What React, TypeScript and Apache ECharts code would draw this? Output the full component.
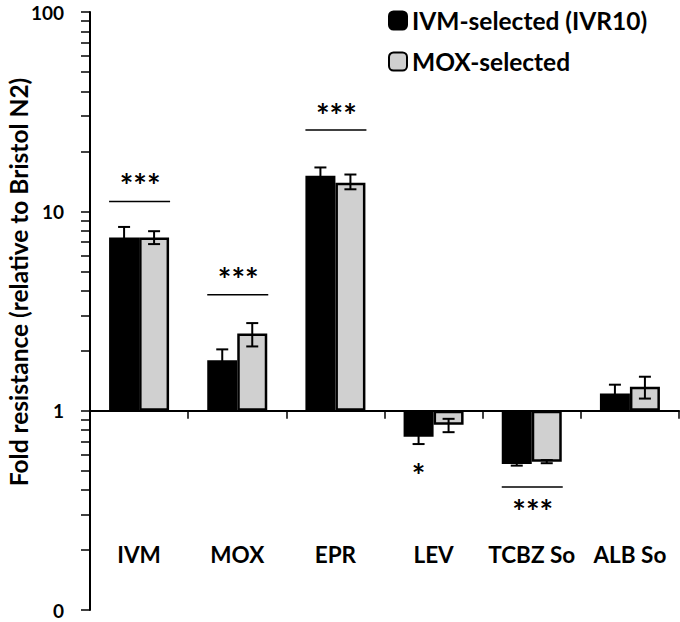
import React, { useEffect, useRef } from "react";
import * as echarts from "echarts";

const categories = ["IVM", "MOX", "EPR", "LEV", "TCBZ So", "ALB So"];
const seriesNames = ["IVM-selected (IVR10)", "MOX-selected"];

const ivmSelected = [7.4, 1.79, 15.1, 0.74, 0.54, 1.22];
const ivmErrLow = [6.45, 1.55, 13.6, 0.68, 0.53, 1.09];
const ivmErrHigh = [8.35, 2.03, 16.6, 0.8, 0.55, 1.35];

const moxSelected = [7.4, 2.44, 13.9, 0.85, 0.555, 1.32];
const moxErrLow = [6.85, 2.1, 12.9, 0.78, 0.545, 1.15];
const moxErrHigh = [7.95, 2.75, 15.3, 0.91, 0.565, 1.48];

const sigCategories = ["IVM", "MOX", "EPR", "TCBZ So"];
const sigLineValues = [11.2, 3.82, 25.6, 0.414];
const sigMarkValues = [14.3, 4.8, 31.8, 0.33];
const sigMarks = ["***", "***", "***", "***"];

const singleSigCategories = ["LEV"];
const singleSigValues = [0.5];
const singleSigMarks = ["*"];

const yTickValues = [
  0.1, 0.2, 0.3, 0.4, 0.5, 0.6, 0.7, 0.8, 0.9,
  1, 2, 3, 4, 5, 6, 7, 8, 9,
  10, 20, 30, 40, 50, 60, 70, 80, 90, 100,
];
const yLabelValues = [0.1, 1, 10, 100];

const FONT = "Lato, 'Open Sans', sans-serif";
const BAR_W = 30;
const STAR_SIZE = 32;

function errorSeries(low: number[], high: number[], side: number) {
  return {
    type: "custom",
    silent: true,
    z: 5,
    data: low.map((l, i) => [i, l, high[i]]),
    renderItem: (params: any, api: any) => {
      const cat = api.value(0);
      const pLow = api.coord([cat, api.value(1)]);
      const pHigh = api.coord([cat, api.value(2)]);
      const x = pLow[0] + side * (BAR_W / 2);
      const cap = 6;
      const style = { stroke: "#000", lineWidth: 2 };
      return {
        type: "group",
        children: [
          { type: "line", shape: { x1: x, y1: pLow[1], x2: x, y2: pHigh[1] }, style },
          { type: "line", shape: { x1: x - cap, y1: pLow[1], x2: x + cap, y2: pLow[1] }, style },
          { type: "line", shape: { x1: x - cap, y1: pHigh[1], x2: x + cap, y2: pHigh[1] }, style },
        ],
      };
    },
  };
}

const starStyle = (text: string) => ({
  text,
  fontFamily: FONT,
  fontWeight: "bold",
  fontSize: STAR_SIZE,
  fill: "#000",
  align: "center",
  verticalAlign: "middle",
});

export default function App() {
  const ref = useRef<HTMLDivElement>(null);
  useEffect(() => {
    if (!ref.current) return;
    const chart = echarts.init(ref.current, null, { renderer: "svg" });
    const option: any = {
      animation: false,
      backgroundColor: "#fff",
      grid: { left: 90, right: 1, top: 12, bottom: 12 },
      legend: {
        data: seriesNames,
        orient: "vertical",
        left: 388,
        top: 8,
        padding: 0,
        itemWidth: 18,
        itemHeight: 18,
        itemGap: 16,
        textStyle: {
          fontFamily: FONT,
          fontWeight: "bold",
          fontSize: 24.5,
          lineHeight: 24,
          color: "#000",
        },
      },
      xAxis: {
        type: "category",
        data: categories,
        position: "bottom",
        offset: -199.3,
        axisLine: { show: true, onZero: false, lineStyle: { color: "#000", width: 2 } },
        axisTick: { show: true, length: 8, lineStyle: { color: "#000", width: 1.5 } },
        axisLabel: {
          interval: 0,
          margin: 132,
          fontFamily: FONT,
          fontWeight: "bold",
          fontSize: 22.5,
          color: "#000",
        },
        splitLine: { show: false },
      },
      yAxis: {
        type: "log",
        logBase: 10,
        min: 0.1,
        max: 100,
        axisLine: { show: true, lineStyle: { color: "#000", width: 2 } },
        axisTick: {
          show: true,
          length: 9,
          customValues: yTickValues,
          lineStyle: { color: "#000", width: 1.5 },
        },
        axisLabel: {
          customValues: yLabelValues,
          margin: 26,
          fontFamily: FONT,
          fontWeight: "bold",
          fontSize: 19,
          lineHeight: 18,
          color: "#000",
          formatter: (v: number) => (v < 1 ? "0" : String(Math.round(v))),
        },
        splitLine: { show: false },
        minorTick: { show: false },
      },
      graphic: [
        {
          type: "text",
          x: 18,
          y: 282,
          rotation: Math.PI / 2,
          style: {
            text: "Fold resistance (relative to Bristol N2)",
            fontFamily: FONT,
            fontWeight: "bold",
            fontSize: 24.5,
            fill: "#000",
            align: "center",
            verticalAlign: "middle",
          },
        },
      ],
      series: [
        {
          name: seriesNames[0],
          type: "bar",
          data: ivmSelected,
          barWidth: BAR_W,
          barGap: "0%",
          itemStyle: { color: "#000", borderColor: "#000", borderWidth: 2.5 },
          z: 2,
        },
        {
          name: seriesNames[1],
          type: "bar",
          data: moxSelected,
          barWidth: BAR_W,
          barGap: "0%",
          itemStyle: { color: "#d0d0d0", borderColor: "#000", borderWidth: 2.5 },
          z: 2,
        },
        errorSeries(ivmErrLow, ivmErrHigh, -1),
        errorSeries(moxErrLow, moxErrHigh, 1),
        {
          type: "custom",
          silent: true,
          z: 6,
          data: sigCategories.map((c, i) => [categories.indexOf(c), sigLineValues[i], sigMarkValues[i]]),
          renderItem: (params: any, api: any) => {
            const cat = api.value(0);
            const pLine = api.coord([cat, api.value(1)]);
            const pMark = api.coord([cat, api.value(2)]);
            return {
              type: "group",
              children: [
                {
                  type: "line",
                  shape: { x1: pLine[0] - 30, y1: pLine[1], x2: pLine[0] + 31, y2: pLine[1] },
                  style: { stroke: "#000", lineWidth: 1.5 },
                },
                {
                  type: "text",
                  x: pMark[0] + 1,
                  y: pMark[1] + STAR_SIZE * 0.15,
                  style: starStyle(sigMarks[params.dataIndex]),
                },
              ],
            };
          },
        },
        {
          type: "custom",
          silent: true,
          z: 6,
          data: singleSigCategories.map((c, i) => [categories.indexOf(c), singleSigValues[i]]),
          renderItem: (params: any, api: any) => {
            const p = api.coord([api.value(0), api.value(1)]);
            return {
              type: "text",
              x: p[0] - BAR_W / 2,
              y: p[1] + STAR_SIZE * 0.15,
              style: starStyle(singleSigMarks[params.dataIndex]),
            };
          },
        },
      ],
    };
    chart.setOption(option);
    return () => chart.dispose();
  }, []);
  return (
    <div
      ref={ref}
      style={{ position: "fixed", left: 0, top: 0, width: 680, height: 622, background: "#fff" }}
    />
  );
}
